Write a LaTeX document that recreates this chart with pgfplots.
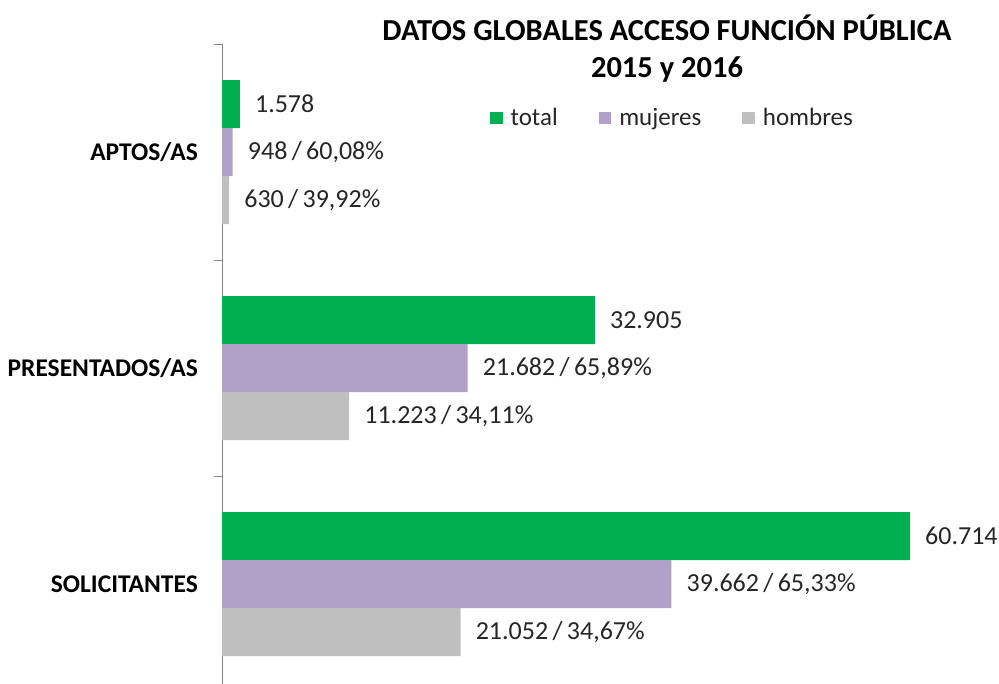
\documentclass[border=0pt]{standalone}
\usepackage{pgfplots}
\pgfplotsset{compat=1.18}
\usepackage{fontspec}
\setmainfont{Carlito}
\definecolor{cgreen}{HTML}{00B050}
\definecolor{cpurple}{HTML}{B1A0C7}
\definecolor{cgrey}{HTML}{BFBFBF}
\definecolor{caxis}{HTML}{868686}
\definecolor{ctext}{HTML}{262626}
\begin{document}
\begin{tikzpicture}
\begin{axis}[
  at={(222bp,-692bp)}, anchor=south west,
  scale only axis, width=770bp, height=648bp,
  xbar, bar width=48bp,
  xmin=0, xmax=67950,
  ymin=-0.5, ymax=2.5, y dir=reverse,
  axis x line=none,
  axis y line*=left,
  y axis line style={draw=caxis, line width=1bp},
  ytick={0,1,2},
  yticklabels={APTOS/AS,PRESENTADOS/AS,SOLICITANTES},
  minor ytick={-0.5,0.5,1.5,2.5},
  major tick length=0pt,
  minor tick length=8bp,
  tick align=outside,
  tick style={draw=caxis, line width=1bp},
  yticklabel style={font=\fontsize{25.5bp}{30bp}\selectfont\bfseries, text=black, anchor=east, xshift=-24bp, inner sep=0pt},
  clip=false,
  nodes near coords,
  point meta=explicit symbolic,
  nodes near coords style={font=\fontsize{26bp}{30bp}\selectfont, text=ctext, anchor=west, inner sep=0pt, xshift=15bp},
  legend columns=3,
  legend style={at={(0.348,0.886)}, anchor=west, draw=none, fill=none, inner sep=0pt, font=\fontsize{25bp}{30bp}\selectfont, text=ctext, nodes={inner sep=3bp}, /tikz/every even column/.append style={column sep=38bp}},
  legend image code/.code={\fill[#1] (0bp,-6bp) rectangle (12.5bp,6bp); \path (0bp,0bp) -- (17.5bp,0bp);},
]
\addplot[fill=cgreen, draw=none, bar shift=48bp] coordinates {(1578,0) [{1.578}] (32905,1) [{32.905}] (60714,2) [{60.714}]};
\addplot[fill=cpurple, draw=none, bar shift=0bp] coordinates {(948,0) [{948\,/\,60,08\%}] (21682,1) [{21.682\,/\,65,89\%}] (39662,2) [{39.662\,/\,65,33\%}]};
\addplot[fill=cgrey, draw=none, bar shift=-48bp] coordinates {(630,0) [{630\,/\,39,92\%}] (11223,1) [{11.223\,/\,34,11\%}] (21052,2) [{21.052\,/\,34,67\%}]};
\legend{total, mujeres, hombres}
\end{axis}
\node[anchor=base, font=\fontsize{30.5bp}{36bp}\selectfont\bfseries] at (667bp,-40bp) {DATOS GLOBALES ACCESO FUNCIÓN PÚBLICA};
\node[anchor=base, font=\fontsize{30.5bp}{36bp}\selectfont\bfseries] at (667bp,-77bp) {2015 y 2016};
\pgfresetboundingbox
\useasboundingbox (0bp,0bp) rectangle (999bp,-684bp);
\end{tikzpicture}
\end{document}
